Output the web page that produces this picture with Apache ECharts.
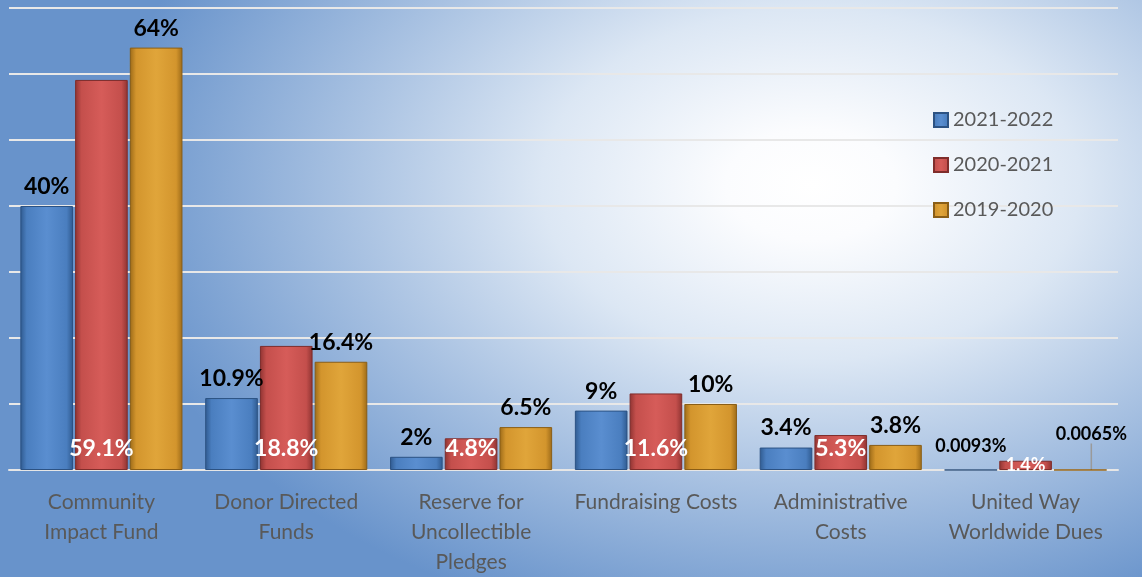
<!DOCTYPE html>
<html>
<head>
<meta charset="utf-8">
<script src="https://cdn.jsdelivr.net/npm/echarts@6/dist/echarts.min.js"></script>
<style>
html,body{margin:0;padding:0;}
#chart{width:1142px;height:577px;
background: radial-gradient(ellipse 62% 80% at 71% 32%, #ffffff 0%, #fbfcfe 12%, #dce7f4 38%, #a9c2e2 65%, #6893cb 100%);}
</style>
</head>
<body>
<div id="chart"></div>
<script>
const categories = ['Community\nImpact Fund', 'Donor Directed\nFunds', 'Reserve for\nUncollectible\nPledges', 'Fundraising Costs', 'Administrative\nCosts', 'United Way\nWorldwide Dues'];
const seriesNames = ['2021-2022', '2020-2021', '2019-2020'];
const values2122 = [40, 10.9, 2, 9, 3.4, 0.0093];
const values2021 = [59.1, 18.8, 4.8, 11.6, 5.3, 1.4];
const values1920 = [64, 16.4, 6.5, 10, 3.8, 0.0065];
const yTicks = [0, 10, 20, 30, 40, 50, 60, 70];

const FONT = 'Lato, "Open Sans", sans-serif';

function bevel(base, light, dark) {
  return {
    type: 'linear', x: 0, y: 0, x2: 1, y2: 0,
    colorStops: [
      {offset: 0, color: dark},
      {offset: 0.12, color: base},
      {offset: 0.5, color: light},
      {offset: 0.88, color: base},
      {offset: 1, color: dark}
    ]
  };
}

const chart = echarts.init(document.getElementById('chart'));
const topLabel = {show: true, position: 'top', distance: 8, color: '#000', fontFamily: FONT, fontWeight: 'bold', fontSize: 23,
  formatter: p => p.value + '%'};

chart.setOption({
  backgroundColor: 'transparent',
  textStyle: {fontFamily: FONT},
  grid: {left: 9, right: 24, top: 8, bottom: 104, containLabel: false},
  legend: {
    orient: 'vertical', left: 928, top: 105, itemWidth: 14, itemHeight: 14, itemGap: 25,
    icon: 'rect',
    textStyle: {fontSize: 20, color: '#595959', fontFamily: FONT, lineHeight: 20},
    data: seriesNames
  },
  xAxis: {
    type: 'category', data: categories,
    axisLine: {show: true, lineStyle: {color: '#e6e6e6', width: 2}},
    axisTick: {show: false},
    axisLabel: {fontSize: 21, color: '#595959', fontFamily: FONT, lineHeight: 30, margin: 17, interval: 0}
  },
  yAxis: {
    type: 'value', min: yTicks[0], max: yTicks[yTicks.length - 1], interval: 10,
    axisLabel: {show: false}, axisLine: {show: false}, axisTick: {show: false},
    splitLine: {lineStyle: {color: '#e8e8e8', width: 2}}
  },
  series: [
    {
      name: seriesNames[0], type: 'bar', barGap: '4%', barCategoryGap: '12.3%',
      itemStyle: {color: bevel('#4a7ebf', '#5a8ed0', '#2f5a8f'), borderColor: '#2c5283', borderWidth: 1},
      label: topLabel,
      data: values2122.map((v, i) => i === 5 ? {value: v, label: {fontSize: 18, distance: 14}} : v)
    },
    {
      name: seriesNames[1], type: 'bar',
      itemStyle: {color: bevel('#c44f4c', '#d65c59', '#8e3331'), borderColor: '#7f2d2b', borderWidth: 1},
      label: {show: true, position: 'insideBottom', distance: 10, color: '#fff', fontFamily: FONT, fontWeight: 'bold', fontSize: 23,
        formatter: p => p.value + '%'},
      data: values2021.map((v, i) => i === 5 ? {value: v, label: {fontSize: 18, distance: -4}} : v)
    },
    {
      name: seriesNames[2], type: 'bar',
      itemStyle: {color: bevel('#d3952d', '#e0a53a', '#9c6a18'), borderColor: '#8a5e16', borderWidth: 1},
      label: topLabel,
      labelLayout: p => p.dataIndex === 5 ? {dx: 11, dy: -14} : {},
      data: values1920.map((v, i) => i === 5 ? {value: v, label: {fontSize: 18, distance: 12}, labelLine: {show: true, lineStyle: {color: '#9a9a9a', width: 1.5}}} : v)
    }
  ]
});
</script>
</body>
</html>
